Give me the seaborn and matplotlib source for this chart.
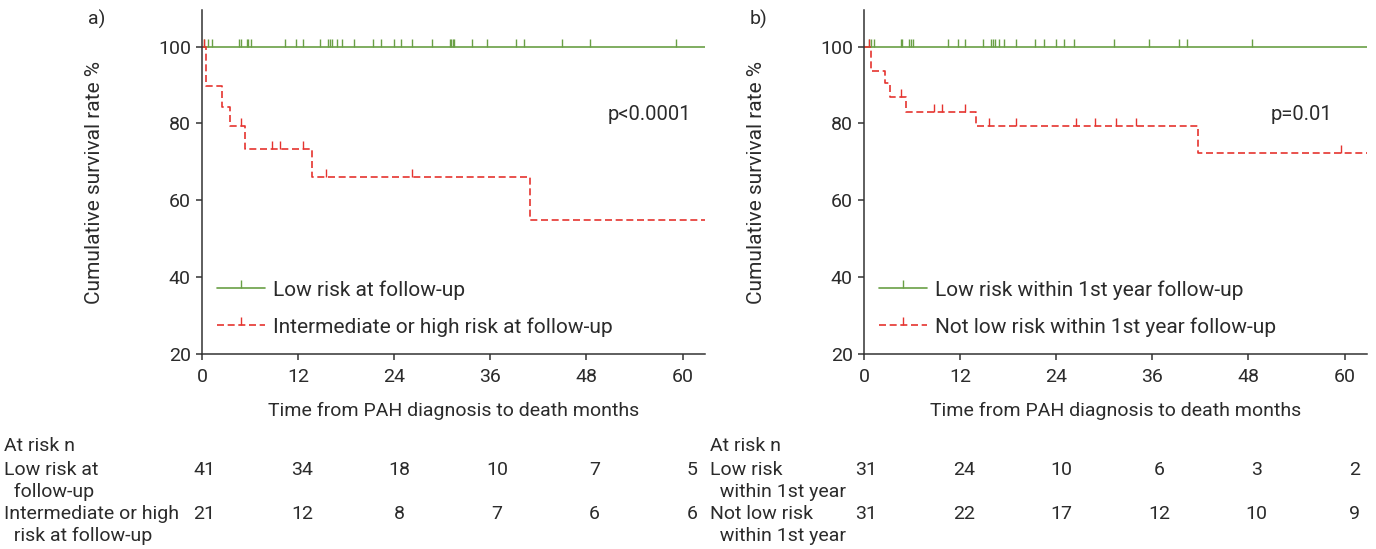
import numpy as np
import pandas as pd
import matplotlib
matplotlib.use("Agg")
import matplotlib.pyplot as plt
from matplotlib.lines import Line2D
from matplotlib.transforms import blended_transform_factory
import seaborn as sns

sns.set_theme(style="ticks")
plt.rcParams['font.family'] = ['Roboto', 'DejaVu Sans']

GREEN = "#6aa046"
RED = "#e5332f"
TXT = "#2b2b2b"
FS = 14
FS_LEG = 15

# ---------------- data ----------------
follow_up_end = 62.8

# Panel a
a_low_label = "Low risk at follow-up"
a_high_label = "Intermediate or high risk at follow-up"
a_low_step_t = [0, follow_up_end]
a_low_step_s = [100, 100]
a_low_cens_t = [0.3, 0.8, 1.2, 4.6, 4.9, 5.6, 5.8, 6.1, 10.4, 11.7, 12.6, 14.7,
                15.75, 16.0, 16.25, 16.8, 17.5, 19.0, 21.3, 22.4, 24.0, 24.9,
                26.2, 28.7, 31.0, 31.1, 31.3, 31.45, 33.7, 35.6, 39.2, 40.2,
                45.0, 48.45, 59.2]
a_high_step_t = [0, 0.5, 2.5, 3.5, 5.4, 13.75, 41.0, follow_up_end]
a_high_step_s = [100, 89.8, 84.3, 79.2, 73.4, 66.1, 54.9, 54.9]
a_high_cens_t = [0.3, 4.9, 8.75, 9.75, 12.6, 15.5, 26.2]
a_p_text = "p<0.0001"
a_risk_rows = ["Low risk at\n  follow-up", "Intermediate or high\n  risk at follow-up"]
a_risk_low = [41, 34, 18, 10, 7, 5]
a_risk_high = [21, 12, 8, 7, 6, 6]

# Panel b
b_low_label = "Low risk within 1st year follow-up"
b_high_label = "Not low risk within 1st year follow-up"
b_low_step_t = [0, follow_up_end]
b_low_step_s = [100, 100]
b_low_cens_t = [0.58, 0.9, 1.25, 4.6, 4.8, 5.66, 5.9, 6.16, 10.5, 11.75, 12.6,
                14.8, 15.9, 16.1, 16.3, 16.9, 17.5, 19.0, 21.4, 22.5, 24.0,
                24.95, 26.25, 31.25, 35.6, 39.3, 40.3, 48.5]
b_high_step_t = [0, 0.875, 2.6, 3.3, 5.25, 14.04, 41.7, follow_up_end]
b_high_step_s = [100, 93.6, 90.4, 86.8, 83.0, 79.4, 72.3, 72.3]
b_high_cens_t = [0.58, 4.6, 8.8, 9.8, 12.6, 15.6, 19.0, 26.5, 28.9, 31.4, 33.9, 59.5]
b_p_text = "p=0.01"
b_risk_rows = ["Low risk\n  within 1st year", "Not low risk\n  within 1st year"]
b_risk_low = [31, 24, 10, 6, 3, 2]
b_risk_high = [31, 22, 17, 12, 10, 9]

risk_times = [0, 12, 24, 36, 48, 60]
x_ticks = [0, 12, 24, 36, 48, 60]
y_ticks = [20, 40, 60, 80, 100]

# ---------------- layout ----------------
W, H = 1376, 549
fig = plt.figure(figsize=(W / 100, H / 100), dpi=100)


def fx(px):
    return px / W


def fy(py):
    return 1 - py / H


def step_level(t_steps, s_steps, t):
    idx = np.searchsorted(np.asarray(t_steps), np.asarray(t), side="right") - 1
    return np.asarray(s_steps)[idx]


def panel(ax_left_px, letter, low_t, low_s, low_c, high_t, high_s, high_c,
          low_lab, high_lab, ptxt, p_x, rows, risk_low, risk_high, table_x_px):
    ax = fig.add_axes([fx(ax_left_px), fy(354), fx(503), 344 / H])
    dash = (0, (4.2, 2.2))
    sns.lineplot(x=low_t, y=low_s, ax=ax, color=GREEN, linewidth=1.2,
                 drawstyle="steps-post", estimator=None, errorbar=None)
    sns.lineplot(x=high_t, y=high_s, ax=ax, color=RED, linewidth=1.2,
                 linestyle=dash, drawstyle="steps-post", estimator=None, errorbar=None)
    sns.scatterplot(x=low_c, y=step_level(low_t, low_s, low_c), ax=ax,
                    marker=2, s=30, color=GREEN, linewidth=1.0, zorder=3)
    sns.scatterplot(x=high_c, y=step_level(high_t, high_s, high_c), ax=ax,
                    marker=2, s=30, color=RED, linewidth=1.0, zorder=3)

    ax.set_xlim(0, follow_up_end)
    ax.set_ylim(20, 109.5)
    ax.set_xticks(x_ticks)
    ax.set_yticks(y_ticks)
    sns.despine(ax=ax)
    for sp in ("left", "bottom"):
        ax.spines[sp].set_linewidth(1.1)
        ax.spines[sp].set_color("#333333")
    ax.tick_params(axis="both", length=4.5, width=1.1, color="#333333",
                   labelsize=FS, labelcolor=TXT)
    ax.tick_params(axis="y", pad=3.5)
    ax.tick_params(axis="x", pad=5.5)

    ax.set_ylabel("Cumulative survival rate %", fontsize=FS_LEG, color=TXT)
    ax.yaxis.set_label_coords(-0.195, 0.5)
    ax.set_xlabel("Time from PAH diagnosis to death months", fontsize=FS, color=TXT)
    ax.xaxis.set_label_coords(0.5, -0.14)

    ax.text(p_x, 80.8, ptxt, ha="right", va="baseline", fontsize=FS + 0.5, color=TXT)

    handles = [Line2D([], [], color=GREEN, lw=1.2, marker=2, markersize=5.5, mew=1.0),
               Line2D([], [], color=RED, lw=1.2, linestyle=dash, marker=2,
                      markersize=5.5, mew=1.0)]
    ax.legend(handles, [low_lab, high_lab], loc="upper left",
              bbox_to_anchor=(0.03, 0.215), frameon=False, fontsize=FS_LEG,
              handlelength=2.3, handletextpad=0.37, labelspacing=0.85,
              borderpad=0, borderaxespad=0, numpoints=1, labelcolor=TXT)

    fig.text(fx(ax_left_px - 114), fy(25), letter, fontsize=FS, color=TXT,
             ha="left", va="baseline")

    # at-risk table
    fig.text(fx(table_x_px), fy(446), "At risk n", fontsize=FS, color=TXT,
             ha="left", va="center")
    row_y = [470, 514]
    for ry, lab, vals in zip(row_y, rows, [risk_low, risk_high]):
        first, second = lab.split("\n")
        fig.text(fx(table_x_px), fy(ry), first, fontsize=FS, color=TXT,
                 ha="left", va="center")
        fig.text(fx(table_x_px), fy(ry + 22), second, fontsize=FS, color=TXT,
                 ha="left", va="center")
        tr = blended_transform_factory(ax.transData, fig.transFigure)
        for t, v in zip(risk_times, vals):
            ax.text(t * 1.015 + 0.3, fy(ry), str(v), transform=tr, fontsize=FS,
                    color=TXT, ha="center", va="center", clip_on=False)
    return ax


panel(202, "a)", a_low_step_t, a_low_step_s, a_low_cens_t,
      a_high_step_t, a_high_step_s, a_high_cens_t,
      a_low_label, a_high_label, a_p_text, 61.1, a_risk_rows,
      a_risk_low, a_risk_high, 4)
panel(864, "b)", b_low_step_t, b_low_step_s, b_low_cens_t,
      b_high_step_t, b_high_step_s, b_high_cens_t,
      b_low_label, b_high_label, b_p_text, 58.5, b_risk_rows,
      b_risk_low, b_risk_high, 710)

fig.savefig("out.png", dpi=100)
